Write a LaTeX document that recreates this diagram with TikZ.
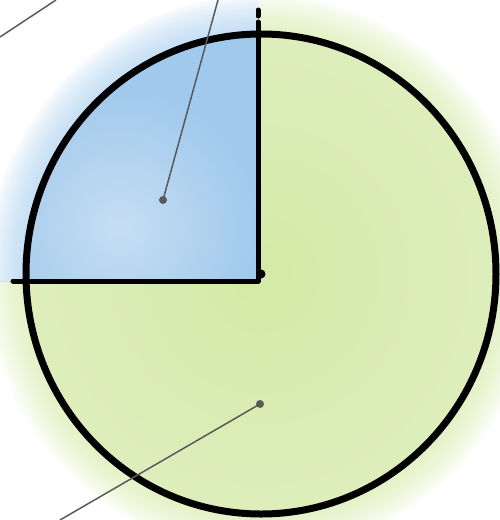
\documentclass[tikz,border=0pt]{standalone}
\begin{document}
\definecolor{glowgreen}{HTML}{D4EAA6}
\definecolor{glowblue}{HTML}{A6CDEE}
\definecolor{lightblue}{HTML}{C6DEF3}
\definecolor{darkblue}{HTML}{A0C9EC}
\definecolor{lightgreen}{HTML}{DDEEBC}
\definecolor{leadgray}{HTML}{5A5A5A}
\tikzset{
  outline/.style={line width=7pt, draw=black},
  axisline/.style={line width=5pt, draw=black, line cap=round, line join=round},
  leader/.style={line width=1.5pt, draw=leadgray},
  leaddot/.style={fill=leadgray},
}
\begin{tikzpicture}[x=1pt,y=-1pt]
\useasboundingbox (0,0) rectangle (500,520);
\clip (0,0) rectangle (500,520);
\coordinate (c) at (261,274);
% green glow and fill (outside the top-left quadrant)
\begin{scope}
  \clip (258,-50) -- (550,-50) -- (550,570) -- (-50,570) -- (-50,281) -- (258,281) -- cycle;
  \foreach \r in {2,4,...,40} {
    \fill[glowgreen, opacity=0.05] (c) ellipse [x radius={235+\r}, y radius={240+\r}];
  }
  \shade[inner color=glowgreen, outer color=lightgreen] (c) ellipse [x radius=235, y radius=240];
\end{scope}
% blue glow and fill (top-left quadrant)
\begin{scope}
  \clip (-50,-50) rectangle (258,281);
  \foreach \r in {2,4,...,40} {
    \fill[glowblue, opacity=0.05] (c) ellipse [x radius={235+\r}, y radius={240+\r}];
  }
  \begin{scope}
    \clip (c) ellipse [x radius=235, y radius=240];
    \fill[darkblue] (-50,-50) rectangle (258,281);
    \shade[inner color=lightblue, outer color=darkblue] (120,228) circle (140);
  \end{scope}
\end{scope}
% outline
\draw[outline] (c) ellipse [x radius=235, y radius=240];
% axis lines
\coordinate (vtop) at (258,22);
\coordinate (corner) at (258,281);
\coordinate (hleft) at (13,281);
\coordinate (d1) at (258,10);
\coordinate (d2) at (258,16);
\draw[axisline] (vtop) -- (corner) -- (hleft);
\draw[axisline] (d1) -- (d2);
\fill (c) circle (4.5);
% leader lines
\coordinate (l1a) at (0,37);
\coordinate (l1b) at (56,0);
\draw[leader] (l1a) -- (l1b);
\coordinate (l2a) at (218,0);
\coordinate (p2) at (163,200);
\draw[leader] (l2a) -- (p2);
\fill[leaddot] (p2) circle (4);
\coordinate (p3) at (260,404);
\coordinate (l3b) at (60,520);
\draw[leader] (p3) -- (l3b);
\fill[leaddot] (p3) circle (4);
\end{tikzpicture}
\end{document}
